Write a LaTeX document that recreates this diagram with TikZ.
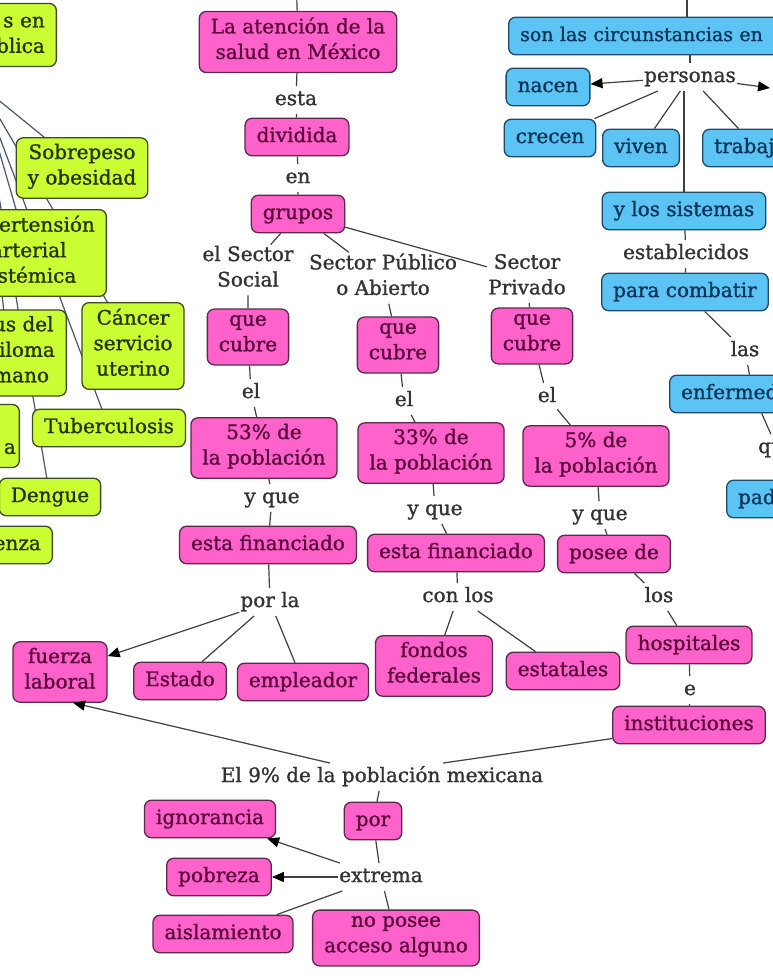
\documentclass[tikz,border=0pt]{standalone}
\usepackage{fontspec}
\setmainfont{DejaVu Serif}[BoldFont={DejaVu Serif}, BoldFeatures={FakeBold=1.2}]
\usetikzlibrary{arrows.meta,calc}
\definecolor{pkfill}{HTML}{FF62CB}
\definecolor{pkdraw}{HTML}{5A2A48}
\definecolor{pktext}{HTML}{5C0A3C}
\definecolor{blfill}{HTML}{5CC3F5}
\definecolor{bldraw}{HTML}{1F4A66}
\definecolor{bltext}{HTML}{0B3556}
\definecolor{grfill}{HTML}{CCFF33}
\definecolor{grdraw}{HTML}{3E4A20}
\definecolor{grtext}{HTML}{263300}
\definecolor{lntext}{HTML}{333333}
\definecolor{edgec}{HTML}{404040}
\definecolor{gedgec}{HTML}{4A5670}
\pgfdeclarelayer{back}
\pgfdeclarelayer{bg}
\pgfsetlayers{back,bg,main}
\begin{document}
\begin{tikzpicture}[x=1pt,y=-1pt,
  base/.style={rounded corners=7pt, line width=1.3pt, inner xsep=11.5pt, inner ysep=6pt,
    align=center, font=\fontsize{20}{25.5}\selectfont\bfseries,
    execute at begin node=\strut, execute at end node=\strut},
  pk/.style={base, draw=pkdraw, fill=pkfill, text=pktext},
  bl/.style={base, draw=bldraw, fill=blfill, text=bltext},
  gr/.style={base, draw=grdraw, fill=grfill, text=grtext},
  lbl/.style={fill=white, inner sep=1pt, align=center, text=lntext,
    font=\fontsize{20}{25.5}\selectfont\bfseries,
    execute at begin node=\strut, execute at end node=\strut},
  ln/.style={draw=edgec, line width=1.2pt},
  gln/.style={draw=gedgec, line width=1.2pt},
  arr/.style={ln, -{Triangle[length=12pt,width=10pt,color=black]}},
]
\useasboundingbox (0,0) rectangle (773,979);
\begin{pgfonlayer}{back}
  \fill[white] (0,0) rectangle (773,979);
\end{pgfonlayer}

% ---------- pink concepts ----------
\node[pk] (aten) at (298,42) {La atención de la\\salud en México};
\node[pk] (divi) at (297,137) {dividida};
\node[pk] (grup) at (298,214) {grupos};
\node[pk] (qc1) at (248,337) {que\\cubre};
\node[pk] (qc2) at (398,345) {que\\cubre};
\node[pk] (qc3) at (532,336) {que\\cubre};
\node[pk] (p53) at (264,448) {53\% de\\la población};
\node[pk] (p33) at (431,453) {33\% de\\la población};
\node[pk] (p5) at (596,456) {5\% de\\la población};
\node[pk] (ef1) at (268,545) {esta financiado};
\node[pk] (ef2) at (456,553) {esta financiado};
\node[pk] (pos) at (614,554) {posee de};
\node[pk] (fue) at (60,672) {fuerza\\laboral};
\node[pk] (est) at (180,681) {Estado};
\node[pk] (emp) at (303,682) {empleador};
\node[pk] (fon) at (434,666) {fondos\\federales};
\node[pk] (esl) at (563,671) {estatales};
\node[pk] (hos) at (689,645) {hospitales};
\node[pk] (ins) at (689,725) {instituciones};
\node[pk] (por) at (373,821) {por};
\node[pk] (ign) at (210,819) {ignorancia};
\node[pk] (pob) at (219,877) {pobreza};
\node[pk] (ais) at (223,934) {aislamiento};
\node[pk] (nop) at (396,938) {no posee\\acceso alguno};

% ---------- linking phrases ----------
\node[lbl] (lesta) at (296,100) {esta};
\node[lbl] (len) at (298,178) {en};
\node[lbl] (lsoc) at (248,270) {el Sector\\Social};
\node[lbl] (lpub) at (383,278) {Sector Público\\o Abierto};
\node[lbl] (lpri) at (527,278) {Sector\\Privado};
\node[lbl] (lel1) at (251,393) {el};
\node[lbl] (lel2) at (404,401) {el};
\node[lbl] (lel3) at (547,397) {el};
\node[lbl] (lyq1) at (272,498) {y que};
\node[lbl] (lyq2) at (435,510) {y que};
\node[lbl] (lyq3) at (600,515) {y que};
\node[lbl] (lporla) at (270,602) {por la};
\node[lbl] (lcon) at (458,597) {con los};
\node[lbl] (llos) at (659,597) {los};
\node[lbl] (le) at (690,690) {e};
\node[lbl] (lnueve) at (382,777) {El 9\% de la población mexicana};
\node[lbl] (lext) at (381,877) {extrema};

% ---------- blue concepts ----------
\node[bl, anchor=west, text width=320pt, align=left, font=\fontsize{19}{25.5}\selectfont\bfseries] (circ) at (508,36) {son las circunstancias en};
\node[lbl] (lpers) at (690,77) {personas};
\node[bl] (nac) at (548,87) {nacen};
\node[bl] (cre) at (550,138) {crecen};
\node[bl] (viv) at (641,148) {viven};
\node[bl, anchor=west] (tra) at (702,148) {trabajan};
\node[bl] (sis) at (684,211) {y los sistemas};
\node[lbl] (lestab) at (686,254) {establecidos};
\node[bl] (com) at (685,292) {para combatir};
\node[lbl] (llas) at (745,351) {las};
\node[bl, anchor=west] (enf) at (669,394) {enfermedades};
\node[lbl, anchor=west] (lque) at (757,448) {que};
\node[bl, anchor=west] (pad) at (726,499) {padecen};

% ---------- green concepts ----------
\node[gr, anchor=east, text width=120pt, align=right] (gtop) at (57,35) {s en\hspace*{4pt}\\blica};
\node[gr] (sob) at (82,168) {Sobrepeso\\y obesidad};
\node[gr, anchor=east] (hyp) at (107,253) {Hipertensión\\arterial\\sistémica};
\node[gr, anchor=east] (vir) at (67,353) {Virus del\\papiloma\\humano};
\node[gr] (can) at (133,346) {Cáncer\\servicio\\uterino};
\node[gr] (tub) at (109,428) {Tuberculosis};
\node[gr, anchor=east, text width=60pt, align=right] (gaa) at (20,436) {\mbox{}\\a\hspace*{-8pt}};
\node[gr] (den) at (50,497) {Dengue};
\node[gr, anchor=east] (inf) at (53,545) {Influenza};

% ---------- free ends ----------
\coordinate (topA) at (296,-30);
\coordinate (topB) at (687,-30);
\coordinate (rt) at (770,88);
\coordinate (gsrc) at (-20,85);

% ---------- green connectors (behind nodes) ----------
\begin{pgfonlayer}{bg}
  \foreach \t in {sob,hyp,vir,can,tub,gaa,den,inf}
    \draw[gln] (gsrc) -- (\t.center);
\end{pgfonlayer}

% ---------- pink connectors ----------
\draw[ln] (topA) -- (aten);
\draw[ln] (aten) -- (lesta) -- (divi) -- (len) -- (grup);
\draw[ln] (grup) -- (lsoc);
\draw[ln] (grup) -- (lpub);
\draw[ln] (grup) -- (lpri);
\draw[ln] (lsoc) -- (qc1) -- (lel1) -- (p53) -- (lyq1) -- (ef1) -- (lporla);
\draw[arr] (lporla) -- (fue);
\draw[ln] (lporla) -- (est);
\draw[ln] (lporla) -- (emp);
\draw[ln] (lpub) -- (qc2) -- (lel2) -- (p33) -- (lyq2) -- (ef2) -- (lcon);
\draw[ln] (lcon) -- (fon);
\draw[ln] (lcon) -- (esl);
\draw[ln] (lpri) -- (qc3) -- (lel3) -- (p5) -- (lyq3) -- (pos) -- (llos) -- (hos) -- (le) -- (ins);
\draw[ln] (ins.190) -- ($(lnueve.north)+(61,0)$);
\draw[arr] ($(lnueve.north)+(-52,0)$) -- ($(fue.south)+(13,0)$);
\draw[ln] (lnueve) -- (por) -- (lext);
\draw[arr] (lext) -- (ign);
\draw[arr] (lext) -- (pob);
\draw[ln] (lext) -- (ais);
\draw[ln] (lext) -- (nop);

% ---------- blue connectors ----------
\draw[ln] (topB) -- (topB |- circ.north);
\draw[ln] (lpers.north) -- (lpers.north |- circ.south);
\draw[arr] (lpers) -- (nac);
\draw[arr] (lpers) -- (rt);
\draw[ln] (lpers) -- (cre);
\draw[ln] (lpers) -- (viv);
\draw[ln] (lpers) -- (tra);
\draw[ln] (sis.north) -- (sis.north |- lpers.south);
\draw[ln] (sis) -- (lestab) -- (com) -- (llas) -- (enf) -- (lque) -- (pad);
\end{tikzpicture}
\end{document}
